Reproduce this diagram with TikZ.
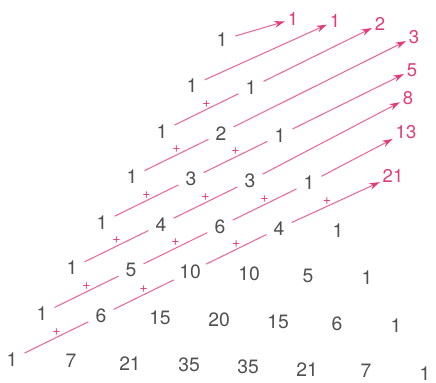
\documentclass[tikz,border=0pt]{standalone}
\usepackage{fontspec}
\setmainfont{TeX Gyre Heros}
\usetikzlibrary{arrows.meta}
\definecolor{numgray}{RGB}{80,80,80}
\definecolor{fibpink}{RGB}{225,60,120}
\definecolor{linepink}{RGB}{234,104,152}

\begin{document}
\begin{tikzpicture}[
  font=\fontsize{11}{13}\selectfont,
  num/.style={circle, inner sep=2pt, text=numgray},
  fib/.style={inner sep=1.5pt, text=fibpink, font=\fontsize{10.5}{12}\selectfont},
  plus/.style={midway, above=1pt, inner sep=0pt, text=fibpink, font=\footnotesize},
  seg/.style={linepink, line width=0.6pt},
  arr/.style={seg, -{Stealth[length=6pt, width=3.8pt, fibpink]}}
]
\useasboundingbox (0,0) rectangle (8.72,-7.66);

% Pascal triangle on a skewed grid: (k, row)
\begin{scope}[shift={(4.44,-0.8)}, x={(1.18cm,-0.04cm)}, y={(-0.6cm,-0.912cm)}]
\node[num] (p00) at (0,0) {1};
\node[num] (p10) at (0,1) {1}; \node[num] (p11) at (1,1) {1};
\node[num] (p20) at (0,2) {1}; \node[num] (p21) at (1,2) {2};
\node[num] (p22) at (2,2) {1};
\node[num] (p30) at (0,3) {1}; \node[num] (p31) at (1,3) {3};
\node[num] (p32) at (2,3) {3}; \node[num] (p33) at (3,3) {1};
\node[num] (p40) at (0,4) {1}; \node[num] (p41) at (1,4) {4};
\node[num] (p42) at (2,4) {6}; \node[num] (p43) at (3,4) {4};
\node[num] (p44) at (4,4) {1};
\node[num] (p50) at (0,5) {1}; \node[num] (p51) at (1,5) {5};
\node[num] (p52) at (2,5) {10}; \node[num] (p53) at (3,5) {10};
\node[num] (p54) at (4,5) {5}; \node[num] (p55) at (5,5) {1};
\node[num] (p60) at (0,6) {1}; \node[num] (p61) at (1,6) {6};
\node[num] (p62) at (2,6) {15}; \node[num] (p63) at (3,6) {20};
\node[num] (p64) at (4,6) {15}; \node[num] (p65) at (5,6) {6};
\node[num] (p66) at (6,6) {1};
\node[num] (p70) at (0,7) {1}; \node[num] (p71) at (1,7) {7};
\node[num] (p72) at (2,7) {21}; \node[num] (p73) at (3,7) {35};
\node[num] (p74) at (4,7) {35}; \node[num] (p75) at (5,7) {21};
\node[num] (p76) at (6,7) {7}; \node[num] (p77) at (7,7) {1};
\end{scope}

% diagonal sums
\node[fib] (fib0) at (5.86,-0.38) {1};
\node[fib] (fib1) at (6.70,-0.42) {1};
\node[fib] (fib2) at (7.60,-0.48) {2};
\node[fib] (fib3) at (8.28,-0.74) {3};
\node[fib] (fib4) at (8.24,-1.40) {5};
\node[fib] (fib5) at (8.16,-1.96) {8};
\node[fib] (fib6) at (8.12,-2.64) {13};
\node[fib] (fib7) at (7.86,-3.52) {21};

\draw[arr] (p00) -- (fib0);
\draw[arr] (p10) -- (fib1);
\draw[arr] (p20) -- node[plus]{+} (p11) -- (fib2);
\draw[arr] (p30) -- node[plus]{+} (p21) -- (fib3);
\draw[arr] (p40) -- node[plus]{+} (p31) -- node[plus]{+} (p22) -- (fib4);
\draw[arr] (p50) -- node[plus]{+} (p41) -- node[plus]{+} (p32) -- (fib5);
\draw[arr] (p60) -- node[plus]{+} (p51) -- node[plus]{+} (p42)
  -- node[plus]{+} (p33) -- (fib6);
\draw[arr] (p70) -- node[plus]{+} (p61) -- node[plus]{+} (p52)
  -- node[plus]{+} (p43) -- node[plus, pos=0.4]{+} (fib7);
\end{tikzpicture}
\end{document}
